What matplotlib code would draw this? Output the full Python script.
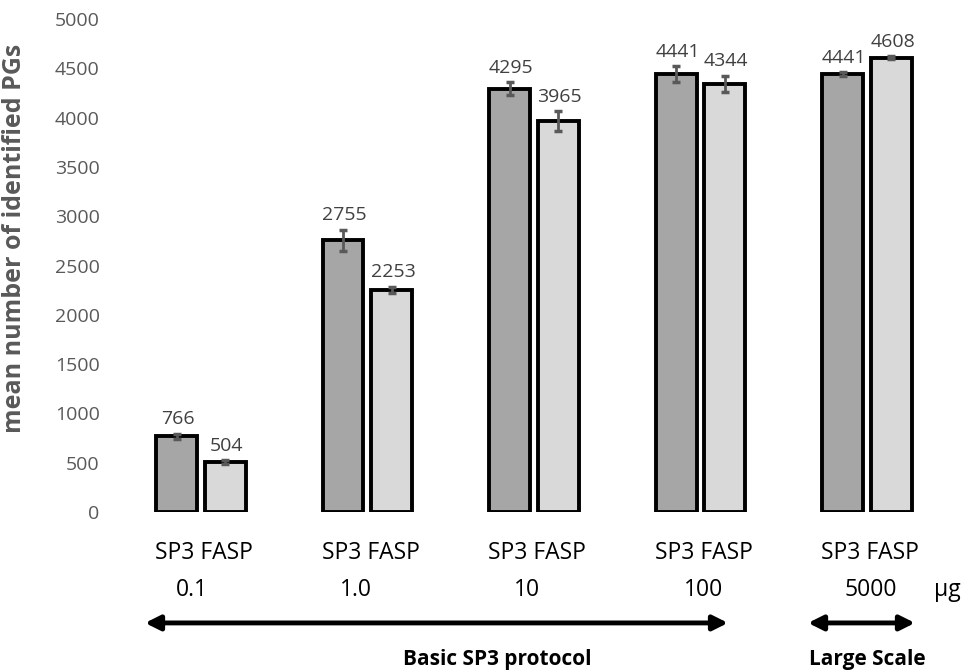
import numpy as np
import matplotlib.pyplot as plt
import matplotlib.transforms as mtransforms

plt.rcParams['font.family'] = ['Open Sans', 'DejaVu Sans']

amounts = ['0.1', '1.0', '10', '100', '5000']
group_label = 'SP3 FASP'
sp3_mean = [766, 2755, 4295, 4441, 4441]
fasp_mean = [504, 2253, 3965, 4344, 4608]
sp3_err = [30, 105, 65, 80, 20]
fasp_err = [20, 30, 100, 80, 15]

# layout
amount_shift = [-0.054, -0.072, -0.042, 0.018, 0.024]
w = 0.246
off = 0.147

fig = plt.figure(figsize=(9.64, 6.70), dpi=100)
ax = fig.add_axes([0.1135, 0.2358, 0.8636, 0.7358])

x = np.arange(len(amounts))
errkw = dict(ecolor='#595959', elinewidth=2, capsize=3, capthick=2.5)
ax.bar(x - off, sp3_mean, w, color='#a6a6a6', edgecolor='black', linewidth=2.8,
       yerr=sp3_err, error_kw=errkw, zorder=2)
ax.bar(x + off, fasp_mean, w, color='#d9d9d9', edgecolor='black', linewidth=2.8,
       yerr=fasp_err, error_kw=errkw, zorder=2)

for i in range(len(amounts)):
    ax.annotate(str(sp3_mean[i]), (x[i] - off, sp3_mean[i] + sp3_err[i]),
                xytext=(1, 4), textcoords='offset points', ha='center', va='bottom',
                fontsize=14, color='#404040')
    ax.annotate(str(fasp_mean[i]), (x[i] + off, fasp_mean[i] + fasp_err[i]),
                xytext=(1, 4), textcoords='offset points', ha='center', va='bottom',
                fontsize=14, color='#404040')

ax.set_xlim(-0.55, 4.45)
ax.set_ylim(0, 5000)
ax.set_yticks(np.arange(0, 5001, 500))
ax.tick_params(axis='y', length=0, pad=7, labelsize=14, labelcolor='#595959')
ax.set_xticks([])

for s in ax.spines.values():
    s.set_visible(False)

ax.set_ylabel('mean number of identified PGs', fontsize=18, fontweight='bold', color='#595959')
ax.yaxis.set_label_coords(-0.0985, 0.556)

trans = mtransforms.blended_transform_factory(ax.transData, ax.transAxes)
for i, a in enumerate(amounts):
    ax.text(x[i] + 0.018, -0.083, group_label, transform=trans, ha='center', va='center',
            fontsize=16.5)
    ax.text(x[i] + amount_shift[i], -0.158, a, transform=trans, ha='center', va='center',
            fontsize=16.5)
ax.text(4.48, -0.158, 'µg', transform=trans, ha='center', va='center', fontsize=16.5)

arrow = dict(arrowstyle='<|-|>', color='black', lw=3.5, mutation_scale=22,
             shrinkA=0, shrinkB=0)
ax.annotate('', xy=(-0.336, -0.225), xytext=(3.165, -0.225), xycoords=trans,
            textcoords=trans, arrowprops=arrow, annotation_clip=False)
ax.annotate('', xy=(3.646, -0.225), xytext=(4.288, -0.225), xycoords=trans,
            textcoords=trans, arrowprops=arrow, annotation_clip=False)
ax.text(1.78, -0.30, 'Basic SP3 protocol', transform=trans, ha='center', va='center',
        fontsize=15, fontweight='bold')
ax.text(4.0, -0.30, 'Large Scale', transform=trans, ha='center', va='center',
        fontsize=15, fontweight='bold')

fig.savefig('out.png', dpi=100)
